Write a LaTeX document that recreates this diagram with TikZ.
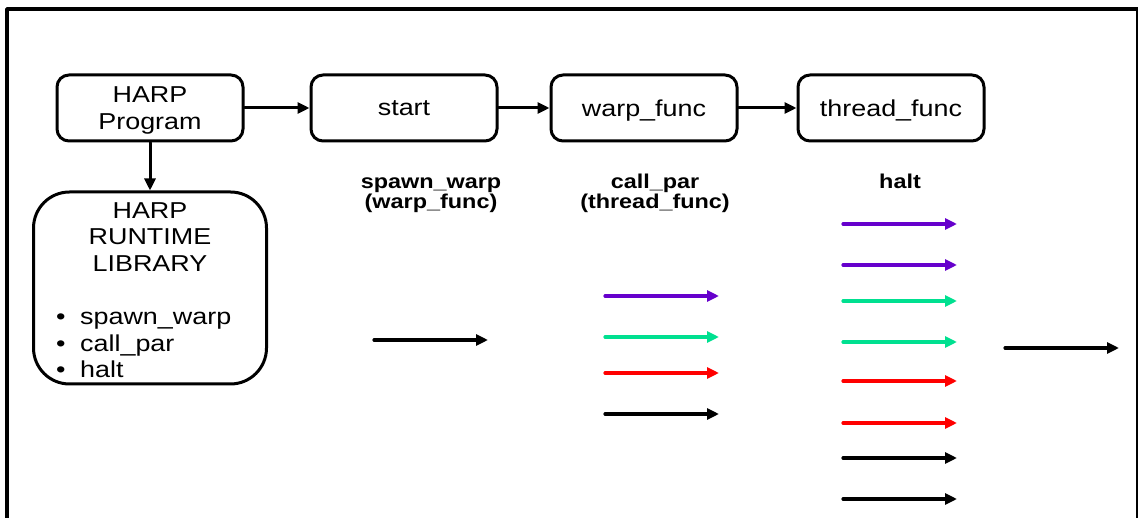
\documentclass[tikz,border=0pt]{standalone}
\usepackage{fontspec}
\setmainfont[FakeStretch=1.17]{Liberation Sans}
\usetikzlibrary{arrows.meta}
\definecolor{warppurple}{RGB}{102,0,204}
\definecolor{warpgreen}{RGB}{0,224,144}
\definecolor{warpred}{RGB}{255,0,0}
\begin{document}
\begin{tikzpicture}[x=1pt, y=-1pt, line cap=round, line join=round, >={Triangle[length=12pt,width=11pt]}]
	\tikzset{box/.style={draw, line width=3pt, rounded corners=12pt, minimum width=186pt, minimum height=66pt, inner sep=0pt, align=center, text depth=0pt, font=\fontsize{23}{26.5}\selectfont},
		libbox/.style={draw, line width=3pt, rounded corners=36pt, minimum width=233pt, minimum height=192pt},
		plain/.style={inner sep=0pt, font=\fontsize{23}{26.5}\selectfont},
		call/.style={inner sep=0pt, align=center, font=\fontsize{20}{20}\selectfont\bfseries},
		link/.style={->, line width=3pt},
		flow/.style={->, line width=3.2pt}}
	\useasboundingbox (0,0) rectangle (1138,518);
	\draw[line width=3.4pt] (7,9) rectangle (1138,560);
	% program and the three functions
	\node[box, text depth=-4pt] (prog) at (150,108) {HARP\\Program};
	\node[box] (start) at (404,108) {start};
	\node[box] (warp) at (644,108) {warp\_func};
	\node[box] (thread) at (891,108) {thread\_func};
	\draw[link] (prog) -- (start);
	\draw[link] (start) -- (warp);
	\draw[link] (warp) -- (thread);
	% runtime library
	\node[libbox] (lib) at (150,288) {};
	\node[plain, align=center] (libtitle) at (150,237) {HARP\\RUNTIME\\LIBRARY};
	\node[plain, align=left, anchor=west] (libcalls) at (56,345) {\makebox[24pt][l]{\textbullet}spawn\_warp\\\makebox[24pt][l]{\textbullet}call\_par\\\makebox[24pt][l]{\textbullet}halt};
	\draw[link] (prog) -- (lib);
	% calls made by each stage
	\node[call] (spawnlbl) at (431,195) {spawn\_warp\\(warp\_func)};
	\node[call] (calllbl) at (655,193) {call\_par\\(thread\_func)};
	\node[call] (haltlbl) at (900,181) {halt};
	% threads per stage
	\draw[flow] (374,340) -- (488,340);
	\foreach \y/\c in {296/warppurple, 337/warpgreen, 373/warpred, 414/black}
		\draw[flow, \c] (605,\y) -- (719,\y);
	\foreach \y/\c in {224/warppurple, 265/warppurple, 301/warpgreen, 342/warpgreen, 381/warpred, 423/warpred, 458/black, 499/black}
		\draw[flow, \c] (843,\y) -- (957,\y);
	\draw[flow] (1005,348) -- (1119,348);
\end{tikzpicture}
\end{document}
